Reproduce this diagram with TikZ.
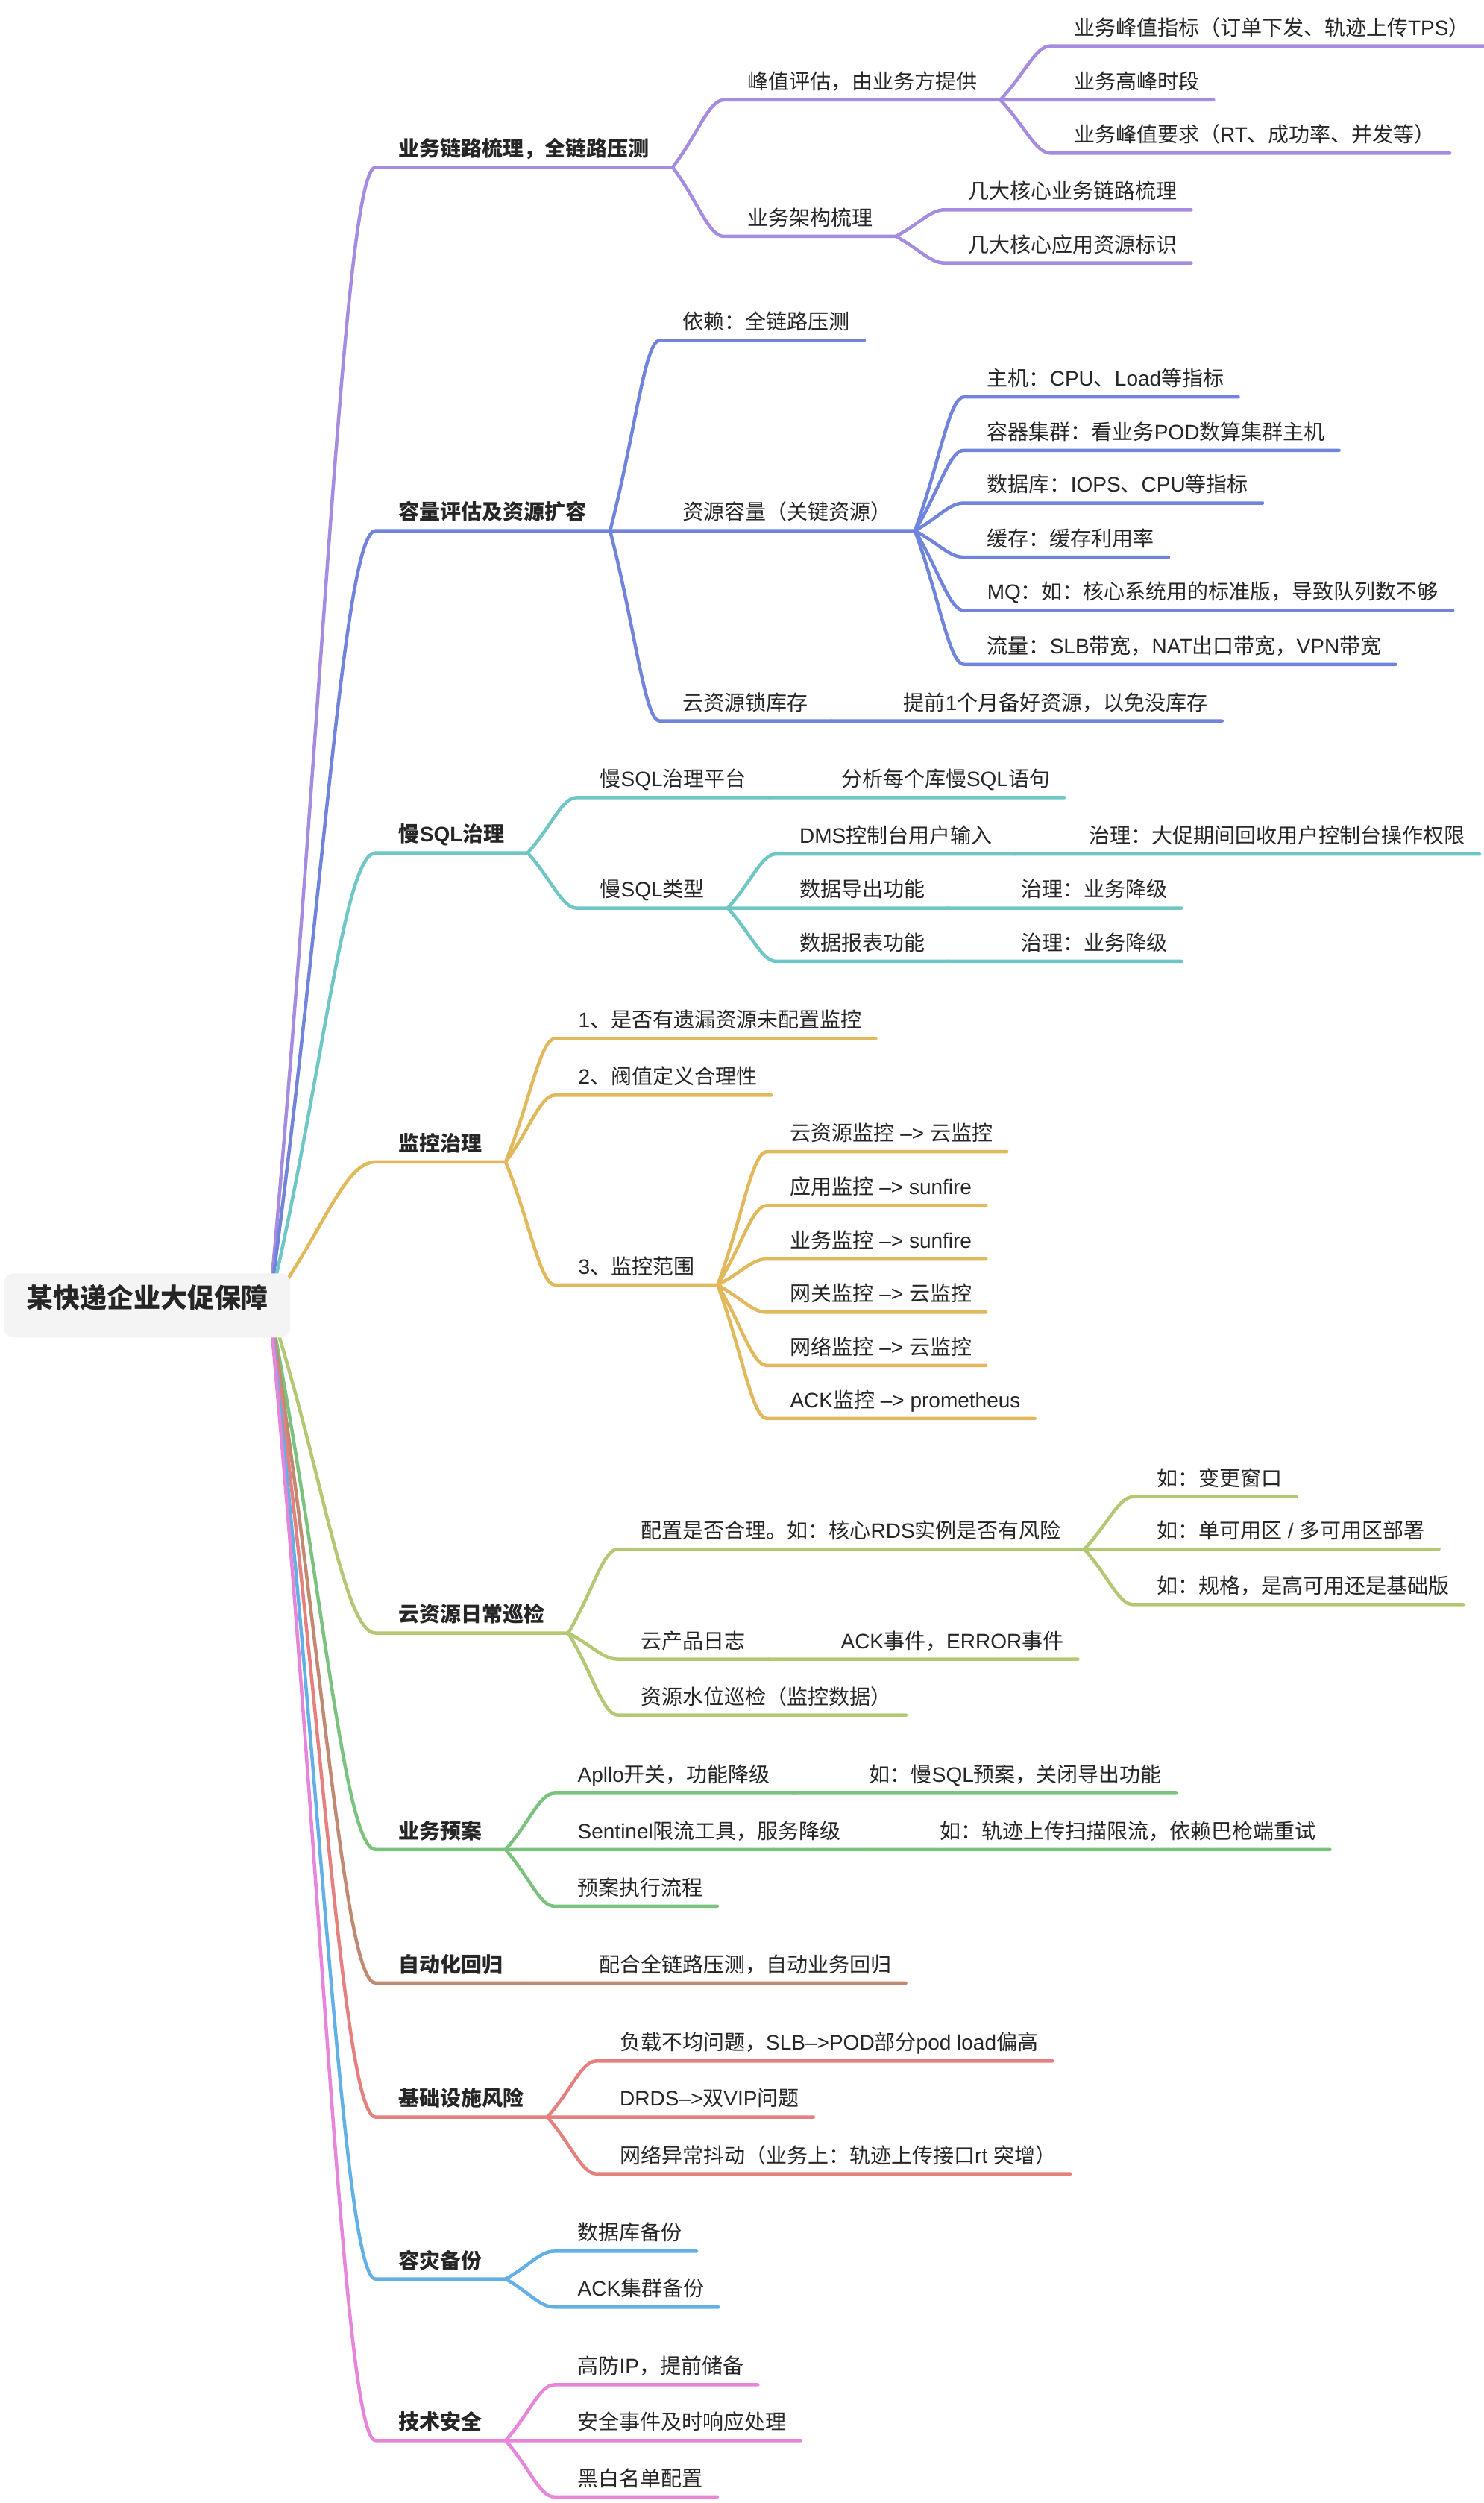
\documentclass[tikz,border=0pt]{standalone}
\usepackage{fontspec}
\setmainfont{Noto Sans CJK SC}
\newfontfamily\latinfam{Liberation Sans}
\newcommand{\EN}[1]{{\latinfam #1}}
\usetikzlibrary{calc,backgrounds}

\definecolor{ink}{HTML}{262626}
\definecolor{rootbg}{HTML}{F4F4F4}
\definecolor{cPurple}{HTML}{A68CE0}
\definecolor{cBlue}{HTML}{7084DC}
\definecolor{cTeal}{HTML}{6EC6C5}
\definecolor{cGold}{HTML}{E2B85C}
\definecolor{cOlive}{HTML}{B4C874}
\definecolor{cGreen}{HTML}{7BC27E}
\definecolor{cBrown}{HTML}{C08A72}
\definecolor{cSalmon}{HTML}{E4817F}
\definecolor{cSky}{HTML}{62B0E6}
\definecolor{cPink}{HTML}{E685DA}

\begin{document}
\begin{tikzpicture}[x=2.126pt, y=-2.126pt,
    every node/.style={text=ink, inner xsep=0pt, inner ysep=12.2pt, text height=0.88em, text depth=0.22em,
      font=\fontsize{28}{34}\selectfont},
    endpad/.store in=\endpad,
    topic/.style={anchor=south west, xshift=-31pt, endpad=19pt,
      execute at begin node={\hspace*{31pt}}, execute at end node={\hspace*{\endpad}}},
    hub/.style={topic, endpad=31pt},
    main/.style={hub, font=\fontsize{28}{34}\selectfont\bfseries},
    root/.style={fill=rootbg, rounded corners=12pt, minimum width=383.7pt, minimum height=86pt,
      inner sep=0pt, font=\fontsize{36}{42}\selectfont\bfseries},
    branch/.style={line width=4.5pt, line cap=round, line join=round},
    conn/.style={to path={.. controls ($(\tikztostart)!0.5!(\tikztotarget)$)
      and ($(\tikztotarget)!0.3!(\tikztostart |- \tikztotarget)$) .. (\tikztotarget)}},
  ]
\useasboundingbox (0,0) rectangle (936,1578.6);

% root
\node[root] (root) at (92.8,823.3) {某快递企业大促保障};
\coordinate (hub) at ([xshift=-28pt]root.east);

% 业务链路
\node[main] (A) at (251.5,105.5) {业务链路梳理，全链路压测};
\node[hub] (A1) at (471.3,63) {峰值评估，由业务方提供};
\node[topic] (A11) at (677.3,29) {业务峰值指标（订单下发、轨迹上传\EN{TPS}）};
\node[topic] (A12) at (677.3,63) {业务高峰时段};
\node[topic] (A13) at (677.3,96.6) {业务峰值要求（\EN{RT}、成功率、并发等）};
\node[hub] (A2) at (471.3,149.1) {业务架构梳理};
\node[topic] (A21) at (610.6,132.3) {几大核心业务链路梳理};
\node[topic] (A22) at (610.6,165.9) {几大核心应用资源标识};

% 容量评估
\node[main] (B) at (251.5,334.7) {容量评估及资源扩容};
\node[topic] (B1) at (430.6,214.7) {依赖：全链路压测};
\node[hub] (B2) at (430.6,334.7) {资源容量（关键资源）};
\node[topic] (B21) at (622.6,250.3) {主机：\EN{CPU}、\EN{Load}等指标};
\node[topic] (B22) at (622.6,284) {容器集群：看业务\EN{POD}数算集群主机};
\node[topic] (B23) at (622.6,317.3) {数据库：\EN{IOPS}、\EN{CPU}等指标};
\node[topic] (B24) at (622.6,351.4) {缓存：缓存利用率};
\node[topic] (B25) at (622.6,385) {\EN{MQ}：如：核心系统用的标准版，导致队列数不够};
\node[topic] (B26) at (622.6,419) {流量：\EN{SLB}带宽，\EN{NAT}出口带宽，\EN{VPN}带宽};
\node[hub] (B3) at (430.6,454.7) {云资源锁库存};
\node[topic] (B31) at (570,454.7) {提前\EN{1}个月备好资源，以免没库存};

% 慢SQL
\node[main] (C) at (251.5,537.9) {慢\EN{SQL}治理};
\node[hub] (C1) at (378.4,503) {慢\EN{SQL}治理平台};
\node[topic] (C11) at (530.5,503) {分析每个库慢\EN{SQL}语句};
\node[hub] (C2) at (378.4,572.7) {慢\EN{SQL}类型};
\node[hub] (C21) at (504.2,538.6) {\EN{DMS}控制台用户输入};
\node[topic] (C211) at (687,538.6) {治理：大促期间回收用户控制台操作权限};
\node[hub] (C22) at (504.2,572.7) {数据导出功能};
\node[topic] (C221) at (643.9,572.7) {治理：业务降级};
\node[hub] (C23) at (504.2,606.3) {数据报表功能};
\node[topic] (C231) at (643.9,606.3) {治理：业务降级};

% 监控
\node[main] (D) at (251.5,732.8) {监控治理};
\node[topic] (D1) at (364.7,655) {\EN{1}、是否有遗漏资源未配置监控};
\node[topic] (D2) at (364.7,690.7) {\EN{2}、阀值定义合理性};
\node[hub] (D3) at (364.7,810.4) {\EN{3}、监控范围};
\node[topic] (D31) at (498.3,726.3) {云资源监控\EN{ –> }云监控};
\node[topic] (D32) at (498.3,760.3) {应用监控\EN{ –> sunfire}};
\node[topic] (D33) at (498.3,794) {业务监控\EN{ –> sunfire}};
\node[topic] (D34) at (498.3,827.6) {网关监控\EN{ –> }云监控};
\node[topic] (D35) at (498.3,861.2) {网络监控\EN{ –> }云监控};
\node[topic] (D36) at (498.3,894.6) {\EN{ACK}监控\EN{ –> prometheus}};

% 巡检
\node[main] (E) at (251.5,1029.9) {云资源日常巡检};
\node[hub] (E1) at (404.3,977) {配置是否合理。如：核心\EN{RDS}实例是否有风险};
\node[topic] (E11) at (729.5,944) {如：变更窗口};
\node[topic] (E12) at (729.5,977) {如：单可用区\EN{ / }多可用区部署};
\node[topic] (E13) at (729.5,1012) {如：规格，是高可用还是基础版};
\node[hub] (E2) at (404.3,1046.4) {云产品日志};
\node[topic] (E21) at (530.3,1046.4) {\EN{ACK}事件，\EN{ERROR}事件};
\node[topic] (E3) at (404.3,1081.7) {资源水位巡检（监控数据）};

% 预案
\node[main] (F) at (251.5,1166.5) {业务预案};
\node[hub] (F1) at (364.3,1131) {\EN{Apllo}开关，功能降级};
\node[topic] (F11) at (548.3,1131) {如：慢\EN{SQL}预案，关闭导出功能};
\node[hub] (F2) at (364.3,1166.5) {\EN{Sentinel}限流工具，服务降级};
\node[topic] (F21) at (592.7,1166.5) {如：轨迹上传扫描限流，依赖巴枪端重试};
\node[topic] (F3) at (364.3,1202.2) {预案执行流程};

% 回归
\node[main] (G) at (251.5,1250.7) {自动化回归};
\node[topic] (G1) at (377.8,1250.7) {配合全链路压测，自动业务回归};

% 基础设施
\node[main] (H) at (251.5,1335.2) {基础设施风险};
\node[topic] (H1) at (390.9,1299.8) {负载不均问题，\EN{SLB–>POD}部分\EN{pod load}偏高};
\node[topic] (H2) at (390.9,1335.2) {\EN{DRDS–>}双\EN{VIP}问题};
\node[topic] (H3) at (390.9,1371) {网络异常抖动（业务上：轨迹上传接口\EN{rt }突增）};

% 容灾
\node[main] (I) at (251.5,1437.3) {容灾备份};
\node[topic] (I1) at (364.3,1419.8) {数据库备份};
\node[topic] (I2) at (364.3,1455) {\EN{ACK}集群备份};

% 安全
\node[main] (J) at (251.5,1539.2) {技术安全};
\node[topic] (J1) at (364.3,1504) {高防\EN{IP}，提前储备};
\node[topic] (J2) at (364.3,1539.2) {安全事件及时响应处理};
\node[topic] (J3) at (364.3,1574.7) {黑白名单配置};

\begin{pgfonlayer}{background}
\draw[branch, cPurple] (hub) to[conn] (A.south west) -- (A.south east);
\draw[branch, cBlue]   (hub) to[conn] (B.south west) -- (B.south east);
\draw[branch, cTeal]   (hub) to[conn] (C.south west) -- (C.south east);
\draw[branch, cGold]   (hub) to[conn] (D.south west) -- (D.south east);
\draw[branch, cOlive]  (hub) to[conn] (E.south west) -- (E.south east);
\draw[branch, cGreen]  (hub) to[conn] (F.south west) -- (F.south east);
\draw[branch, cBrown]  (hub) to[conn] (G.south west) -- (G.south east);
\draw[branch, cSalmon] (hub) to[conn] (H.south west) -- (H.south east);
\draw[branch, cSky]    (hub) to[conn] (I.south west) -- (I.south east);
\draw[branch, cPink]   (hub) to[conn] (J.south west) -- (J.south east);
\end{pgfonlayer}

\draw[branch, cPurple] (A.south east) to[conn] (A1.south west) -- (A1.south east);
\draw[branch, cPurple] (A1.south east) to[conn] (A11.south west) -- (A11.south east);
\draw[branch, cPurple] (A1.south east) to[conn] (A12.south west) -- (A12.south east);
\draw[branch, cPurple] (A1.south east) to[conn] (A13.south west) -- (A13.south east);
\draw[branch, cPurple] (A.south east) to[conn] (A2.south west) -- (A2.south east);
\draw[branch, cPurple] (A2.south east) to[conn] (A21.south west) -- (A21.south east);
\draw[branch, cPurple] (A2.south east) to[conn] (A22.south west) -- (A22.south east);

\draw[branch, cBlue] (B.south east) to[conn] (B1.south west) -- (B1.south east);
\draw[branch, cBlue] (B.south east) to[conn] (B2.south west) -- (B2.south east);
\draw[branch, cBlue] (B2.south east) to[conn] (B21.south west) -- (B21.south east);
\draw[branch, cBlue] (B2.south east) to[conn] (B22.south west) -- (B22.south east);
\draw[branch, cBlue] (B2.south east) to[conn] (B23.south west) -- (B23.south east);
\draw[branch, cBlue] (B2.south east) to[conn] (B24.south west) -- (B24.south east);
\draw[branch, cBlue] (B2.south east) to[conn] (B25.south west) -- (B25.south east);
\draw[branch, cBlue] (B2.south east) to[conn] (B26.south west) -- (B26.south east);
\draw[branch, cBlue] (B.south east) to[conn] (B3.south west) -- (B3.south east);
\draw[branch, cBlue] (B3.south east) to[conn] (B31.south west) -- (B31.south east);

\draw[branch, cTeal] (C.south east) to[conn] (C1.south west) -- (C1.south east);
\draw[branch, cTeal] (C1.south east) to[conn] (C11.south west) -- (C11.south east);
\draw[branch, cTeal] (C.south east) to[conn] (C2.south west) -- (C2.south east);
\draw[branch, cTeal] (C2.south east) to[conn] (C21.south west) -- (C21.south east);
\draw[branch, cTeal] (C21.south east) to[conn] (C211.south west) -- (C211.south east);
\draw[branch, cTeal] (C2.south east) to[conn] (C22.south west) -- (C22.south east);
\draw[branch, cTeal] (C22.south east) to[conn] (C221.south west) -- (C221.south east);
\draw[branch, cTeal] (C2.south east) to[conn] (C23.south west) -- (C23.south east);
\draw[branch, cTeal] (C23.south east) to[conn] (C231.south west) -- (C231.south east);

\draw[branch, cGold] (D.south east) to[conn] (D1.south west) -- (D1.south east);
\draw[branch, cGold] (D.south east) to[conn] (D2.south west) -- (D2.south east);
\draw[branch, cGold] (D.south east) to[conn] (D3.south west) -- (D3.south east);
\draw[branch, cGold] (D3.south east) to[conn] (D31.south west) -- (D31.south east);
\draw[branch, cGold] (D3.south east) to[conn] (D32.south west) -- (D32.south east);
\draw[branch, cGold] (D3.south east) to[conn] (D33.south west) -- (D33.south east);
\draw[branch, cGold] (D3.south east) to[conn] (D34.south west) -- (D34.south east);
\draw[branch, cGold] (D3.south east) to[conn] (D35.south west) -- (D35.south east);
\draw[branch, cGold] (D3.south east) to[conn] (D36.south west) -- (D36.south east);

\draw[branch, cOlive] (E.south east) to[conn] (E1.south west) -- (E1.south east);
\draw[branch, cOlive] (E1.south east) to[conn] (E11.south west) -- (E11.south east);
\draw[branch, cOlive] (E1.south east) to[conn] (E12.south west) -- (E12.south east);
\draw[branch, cOlive] (E1.south east) to[conn] (E13.south west) -- (E13.south east);
\draw[branch, cOlive] (E.south east) to[conn] (E2.south west) -- (E2.south east);
\draw[branch, cOlive] (E2.south east) to[conn] (E21.south west) -- (E21.south east);
\draw[branch, cOlive] (E.south east) to[conn] (E3.south west) -- (E3.south east);

\draw[branch, cGreen] (F.south east) to[conn] (F1.south west) -- (F1.south east);
\draw[branch, cGreen] (F1.south east) to[conn] (F11.south west) -- (F11.south east);
\draw[branch, cGreen] (F.south east) to[conn] (F2.south west) -- (F2.south east);
\draw[branch, cGreen] (F2.south east) to[conn] (F21.south west) -- (F21.south east);
\draw[branch, cGreen] (F.south east) to[conn] (F3.south west) -- (F3.south east);

\draw[branch, cBrown] (G.south east) to[conn] (G1.south west) -- (G1.south east);

\draw[branch, cSalmon] (H.south east) to[conn] (H1.south west) -- (H1.south east);
\draw[branch, cSalmon] (H.south east) to[conn] (H2.south west) -- (H2.south east);
\draw[branch, cSalmon] (H.south east) to[conn] (H3.south west) -- (H3.south east);

\draw[branch, cSky] (I.south east) to[conn] (I1.south west) -- (I1.south east);
\draw[branch, cSky] (I.south east) to[conn] (I2.south west) -- (I2.south east);

\draw[branch, cPink] (J.south east) to[conn] (J1.south west) -- (J1.south east);
\draw[branch, cPink] (J.south east) to[conn] (J2.south west) -- (J2.south east);
\draw[branch, cPink] (J.south east) to[conn] (J3.south west) -- (J3.south east);

\end{tikzpicture}
\end{document}
